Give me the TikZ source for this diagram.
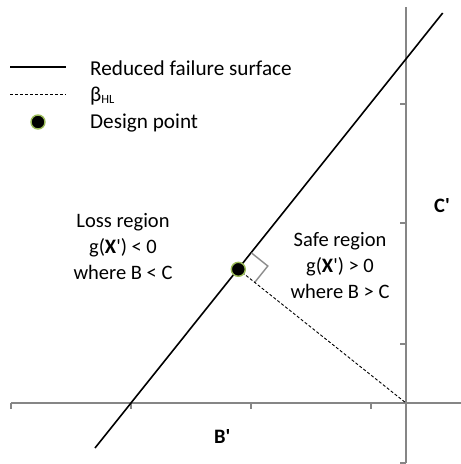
\documentclass[tikz,border=0pt]{standalone}
\usepackage{fontspec}
\setmainfont{Carlito}
\usetikzlibrary{calc}
\definecolor{axisgray}{HTML}{868686}
\definecolor{dotgreen}{HTML}{9BBB59}
\definecolor{markgray}{HTML}{8C8C8C}
\newcommand{\sq}{\textquotesingle}
\begin{document}
\begin{tikzpicture}[x=1pt,y=-1pt,
  axis/.style={draw=axisgray,line width=1.4pt},
  failline/.style={draw=black,line width=1.6pt},
  betaline/.style={draw=black,line width=0.9pt,dash pattern=on 3pt off 2pt},
  dpoint/.style={circle,fill=black,draw=dotgreen,line width=1.4pt,minimum size=14pt,inner sep=0pt},
  lbl/.style={font=\fontsize{20.5}{26}\selectfont,inner sep=0pt},
  leg/.style={font=\fontsize{21.2}{26}\selectfont,inner sep=0pt},
  region/.style={lbl,align=center},
  axlbl/.style={lbl,font=\fontsize{20.5}{26}\selectfont\bfseries}]
\useasboundingbox (0,0) rectangle (461,464);
% axes
\coordinate (hx0) at (11,403);
\coordinate (hx1) at (461,403);
\coordinate (vy0) at (406,7);
\coordinate (vy1) at (406,463);
\coordinate (O) at (406,403);
\draw[axis] (hx0) -- (hx1);
\draw[axis] (vy0) -- (vy1);
\foreach \tx in {11,131,251,371} \draw[axis] (\tx,403) -- (\tx,409);
\foreach \ty in {104,223,344,463} \draw[axis] (400,\ty) -- (406,\ty);
% failure surface
\coordinate (fa) at (95,448);
\coordinate (fb) at (442.7,13);
\draw[failline] (fa) -- (fb);
% design point and beta
\coordinate (dpc) at (238.3,269.3);
\coordinate (ra) at ($(dpc)+(13.1,-16.4)$);
\coordinate (rc) at ($(dpc)+(29.5,-3.3)$);
\coordinate (rb) at ($(dpc)+(16.4,13.1)$);
\draw[markgray,line width=1.4pt] (ra) -- (rc) -- (rb);
\draw[betaline] (dpc) -- (O);
\node[dpoint] (dp) at (dpc) {};
% legend
\coordinate (l1a) at (10,67); \coordinate (l1b) at (66,67);
\coordinate (l2a) at (10,94); \coordinate (l2b) at (66,94);
\draw[failline,line width=1.3pt] (l1a) -- (l1b);
\draw[betaline] (l2a) -- (l2b);
\node[dpoint] (ldp) at (38,122) {};
\node[leg,anchor=base west] (t1) at (90,75) {Reduced failure surface};
\node[leg,anchor=base west] (t2) at (90,101) {β\raisebox{-2.5pt}{\fontsize{12.5}{12.5}\selectfont HL}};
\node[leg,anchor=base west] (t3) at (90,128) {Design point};
% regions
\node[region] (loss) at (123,247) {Loss region\\g(\textbf{X}\sq) < 0\\where B < C};
\node[region] (safe) at (340,266) {Safe region\\g(\textbf{X}\sq) > 0\\where B > C};
\node[axlbl,anchor=base west] (cl) at (434,212) {C\sq};
\node[axlbl,anchor=base west] (bl) at (214,443) {B\sq};
\end{tikzpicture}
\end{document}
